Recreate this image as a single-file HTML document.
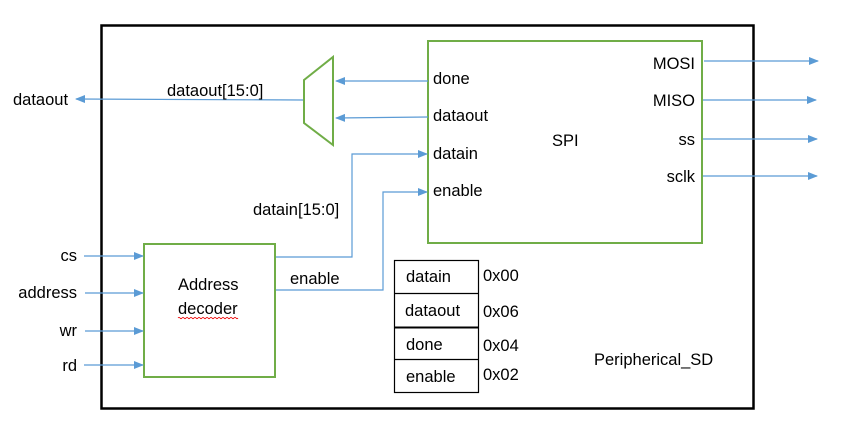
<!DOCTYPE html>
<html><head><meta charset="utf-8"><style>
html,body{margin:0;padding:0;background:#fff;}
svg{display:block;}
text{font-family:"Liberation Sans",sans-serif;font-size:16.5px;fill:#000;}
</style></head><body>
<svg width="853" height="439" viewBox="0 0 853 439" xmlns="http://www.w3.org/2000/svg">
<defs>
<marker id="a" markerWidth="10" markerHeight="8" refX="9" refY="4" orient="auto" markerUnits="userSpaceOnUse">
<path d="M0,0 L10,4 L0,8 z" fill="#5b9bd5"/></marker>
</defs>
<rect x="101.5" y="25.5" width="652" height="383" fill="none" stroke="#000" stroke-width="2.5"/>
<rect x="428" y="41" width="274" height="202" fill="none" stroke="#70ad47" stroke-width="2"/>
<rect x="144" y="244" width="131" height="133" fill="none" stroke="#70ad47" stroke-width="2"/>
<polygon points="304,80 333,57 333,145 304,123" fill="none" stroke="#70ad47" stroke-width="2"/>
<g stroke="#5b9bd5" stroke-width="1.2" fill="none" marker-end="url(#a)">
<line x1="428" y1="81" x2="336" y2="81"/>
<line x1="428" y1="117" x2="336" y2="118"/>
<line x1="303" y1="100" x2="76" y2="99"/>
<polyline points="276,257 352,257 352,154 427,154"/>
<polyline points="276,290 383,290 383,192 427,192"/>
<line x1="84" y1="256" x2="143" y2="256"/>
<line x1="85" y1="293" x2="143" y2="293"/>
<line x1="85" y1="331" x2="143" y2="331"/>
<line x1="84" y1="365" x2="143" y2="365"/>
<line x1="704" y1="61" x2="818" y2="61"/>
<line x1="703" y1="100" x2="816" y2="100"/>
<line x1="703" y1="139" x2="817" y2="139"/>
<line x1="703" y1="176" x2="817" y2="176"/>
</g>
<g stroke="#000" stroke-width="1.2" fill="none">
<rect x="394.5" y="260.5" width="84" height="132"/>
<line x1="394" y1="293.5" x2="478" y2="293.5"/>
<line x1="394" y1="327.5" x2="478" y2="327.5" stroke-width="2"/>
<line x1="394" y1="359.5" x2="478" y2="359.5"/>
</g>
<text x="433" y="84">done</text>
<text x="433" y="121">dataout</text>
<text x="433" y="159">datain</text>
<text x="433" y="196">enable</text>
<text x="552" y="146">SPI</text>
<text x="695" y="69" text-anchor="end">MOSI</text>
<text x="695" y="106" text-anchor="end">MISO</text>
<text x="695" y="145" text-anchor="end">ss</text>
<text x="695" y="182" text-anchor="end">sclk</text>
<text x="13" y="105">dataout</text>
<text x="167" y="96">dataout[15:0]</text>
<text x="253" y="215">datain[15:0]</text>
<text x="290" y="284">enable</text>
<text x="77" y="261" text-anchor="end">cs</text>
<text x="77" y="298" text-anchor="end">address</text>
<text x="77" y="336" text-anchor="end">wr</text>
<text x="77" y="371" text-anchor="end">rd</text>
<text x="178" y="290">Address</text>
<text x="178" y="314">decoder</text>
<path d="M178,318 q1,-1.5 2,0 t2,0 t2,0 t2,0 t2,0 t2,0 t2,0 t2,0 t2,0 t2,0 t2,0 t2,0 t2,0 t2,0 t2,0 t2,0 t2,0 t2,0 t2,0 t2,0 t2,0 t2,0 t2,0 t2,0 t2,0 t2,0 t2,0 t2,0 t2,0 t2,0" stroke="#e00" stroke-width="0.8" fill="none"/>
<text x="406" y="282">datain</text>
<text x="405" y="316">dataout</text>
<text x="406" y="350">done</text>
<text x="406" y="382">enable</text>
<text x="483" y="281">0x00</text>
<text x="483" y="317">0x06</text>
<text x="483" y="351">0x04</text>
<text x="483" y="380">0x02</text>
<text x="594" y="365">Peripherical_SD</text>
</svg>
</body></html>
